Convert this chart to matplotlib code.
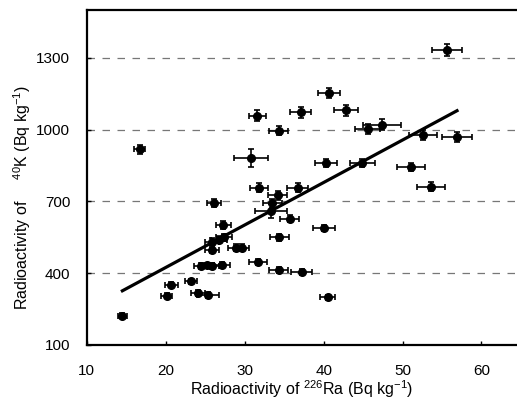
import matplotlib
matplotlib.use("Agg")
import matplotlib.pyplot as plt

plt.rcParams['font.family'] = ['Liberation Sans', 'DejaVu Sans']
plt.rcParams['mathtext.fontset'] = 'custom'
plt.rcParams['mathtext.rm'] = 'Liberation Sans'
plt.rcParams['mathtext.it'] = 'Liberation Sans'

# Ra-226 vs K-40 (Bq/kg)
ra = [14.5, 16.7, 20.1, 20.7, 23.2, 24.1, 25.3, 24.5, 25.2, 25.8,
      27.1, 25.9, 25.9, 26.7, 27.4, 28.9, 29.6, 27.3, 26.1, 31.6,
      37.1, 42.8, 34.3, 30.8, 40.3, 31.8, 36.7, 34.2, 33.5, 33.3,
      35.7, 40.0, 34.4, 31.7, 34.3, 37.2, 40.5, 40.7, 45.6, 47.4,
      52.6, 44.9, 51.1, 55.6, 56.9, 53.6]
k = [222, 917, 305, 352, 365, 317, 307, 430, 432, 430,
     434, 497, 532, 540, 549, 507, 507, 602, 692, 1058,
     1072, 1080, 996, 882, 860, 757, 757, 725, 692, 660,
     628, 588, 550, 447, 414, 406, 299, 1153, 1003, 1021,
     977, 861, 845, 1333, 968, 761]
ra_err = [0.6, 0.7, 0.7, 0.8, 0.8, 0.9, 1.4, 0.9, 0.9, 0.9,
          1.0, 0.9, 0.9, 1.0, 1.0, 1.0, 1.0, 1.0, 0.9, 1.1,
          1.3, 1.5, 1.2, 2.1, 1.4, 1.1, 1.3, 1.2, 1.2, 2.0,
          1.2, 1.4, 1.2, 1.1, 1.2, 1.3, 1.0, 1.4, 1.6, 2.4,
          1.8, 1.6, 1.8, 1.9, 1.9, 1.8]
k_err = [10, 18, 10, 12, 12, 12, 12, 12, 12, 12,
         12, 14, 14, 14, 14, 14, 14, 16, 16, 22,
         22, 22, 20, 38, 18, 18, 18, 18, 18, 30,
         16, 14, 14, 14, 12, 12, 10, 22, 20, 22,
         20, 18, 16, 24, 20, 18]

# regression line end points
fit_x = [14.5, 56.9]
fit_y = [326, 1079]

fig = plt.figure(figsize=(5.17, 4.01), dpi=100)
ax = fig.add_axes([0.168, 0.14, 0.832, 0.835])

ax.errorbar(ra, k, xerr=ra_err, yerr=k_err, fmt='o', color='black',
            markersize=5.5, elinewidth=1.2, capsize=2.5, capthick=1.2)
ax.plot(fit_x, fit_y, color='black', linewidth=2.3)

ax.set_xlim(10, 64.5)
ax.set_ylim(100, 1500)
ax.set_xticks([10, 20, 30, 40, 50, 60])
ax.set_yticks([100, 400, 700, 1000, 1300])
for yv in [400, 700, 1000, 1300]:
    ax.axhline(yv, color='#777777', linestyle=(0, (6, 6)), linewidth=0.9, zorder=0)

ax.spines['right'].set_visible(False)
for s in ['left', 'bottom', 'top']:
    ax.spines[s].set_linewidth(1.6)
ax.tick_params(axis='x', direction='in', length=3, width=1, pad=14, labelsize=11)
ax.tick_params(axis='y', direction='in', length=3, width=1, pad=12, labelsize=11)

ax.set_xlabel(r'Radioactivity of $^{226}$Ra (Bq kg$^{-1}$)', fontsize=11.5, labelpad=0)
ax.set_ylabel(r'Radioactivity of     $^{40}$K (Bq kg$^{-1}$)', fontsize=11.5)
ax.yaxis.set_label_coords(-0.125, 0.44)

fig.savefig('out.png', dpi=100)
